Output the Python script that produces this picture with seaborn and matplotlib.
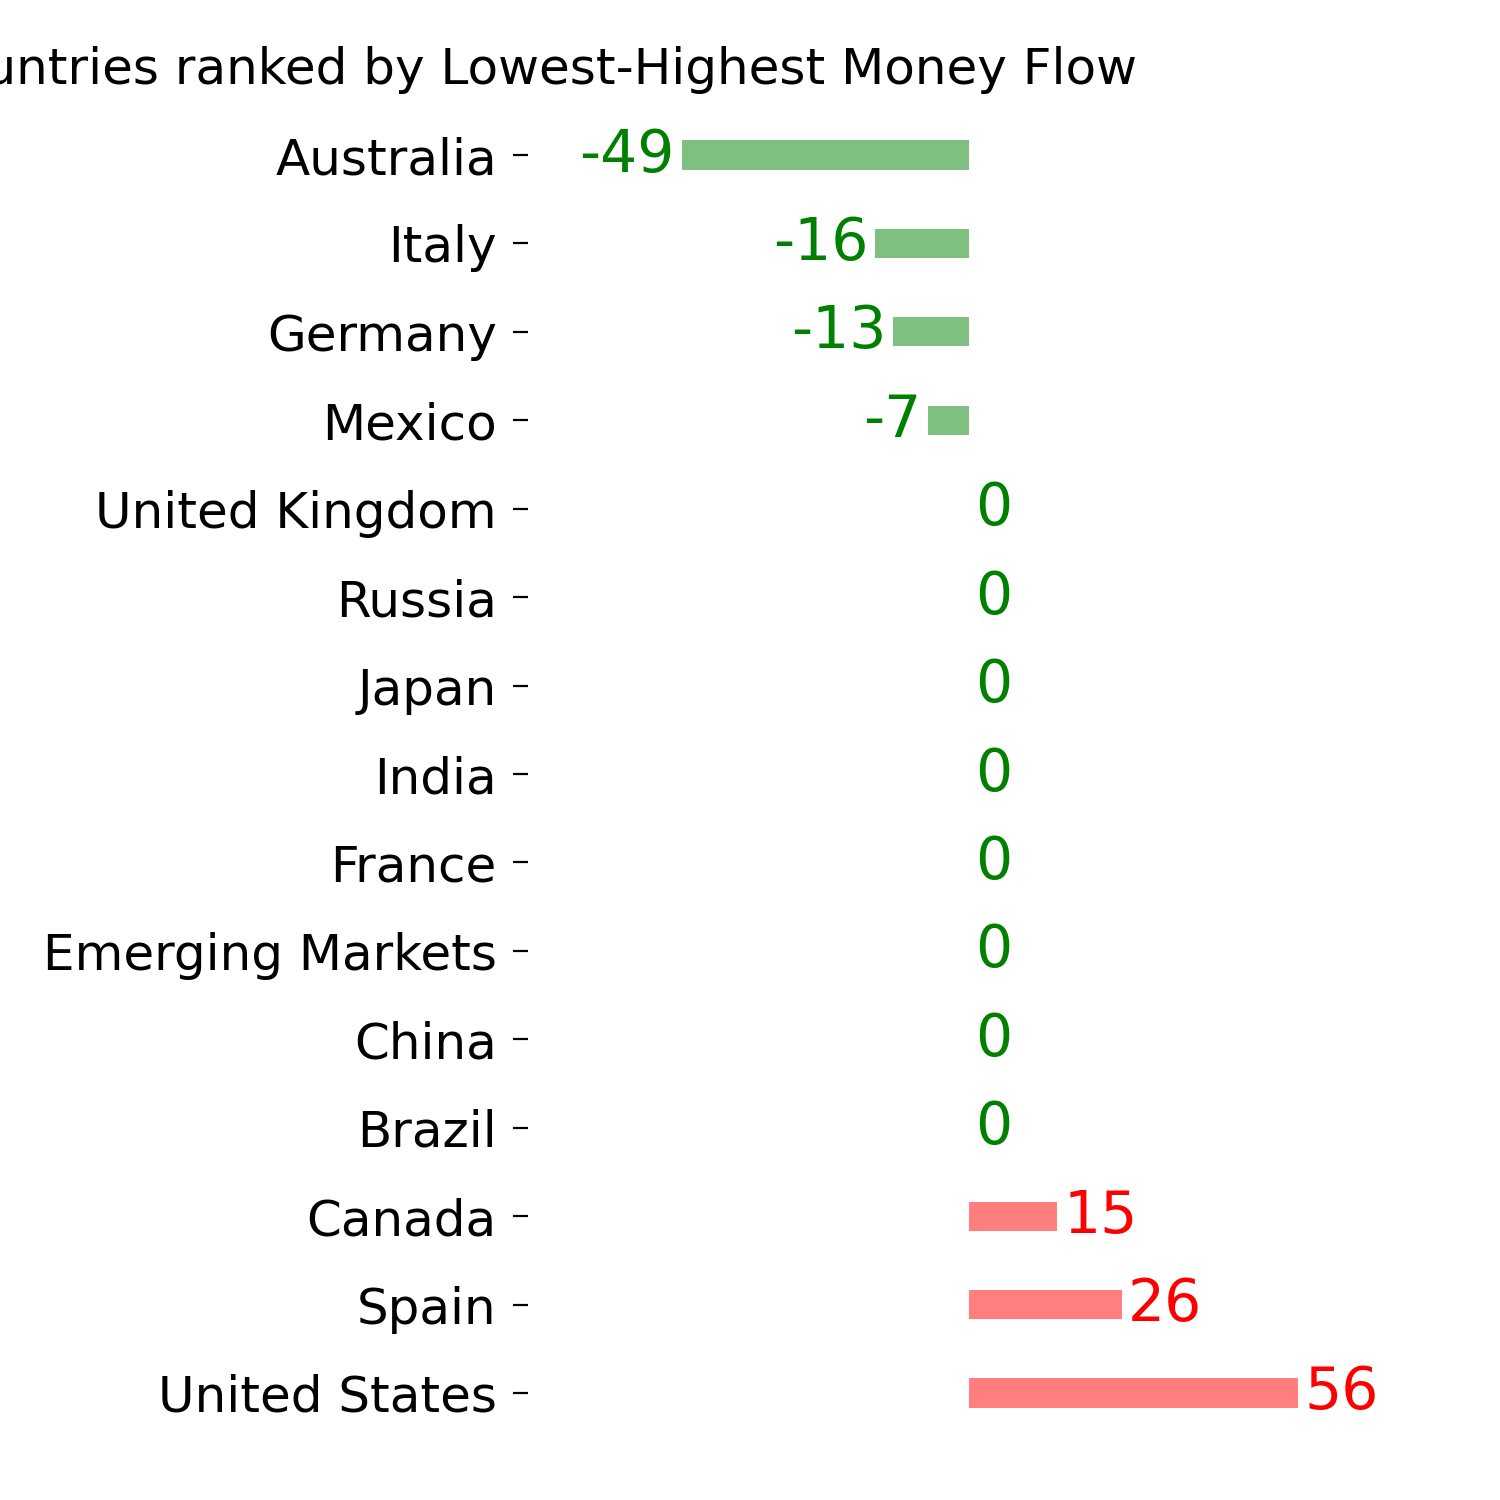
import matplotlib
matplotlib.use("Agg")
import matplotlib.pyplot as plt
import seaborn as sns
import pandas as pd

countries = ["Australia", "Italy", "Germany", "Mexico", "United Kingdom", "Russia",
             "Japan", "India", "France", "Emerging Markets", "China", "Brazil",
             "Canada", "Spain", "United States"]
values = [-49, -16, -13, -7, 0, 0, 0, 0, 0, 0, 0, 0, 15, 26, 56]
title = "Countries ranked by Lowest-Highest Money Flow"

sns.set_theme(style="white")
plt.rcParams['font.family'] = ['DejaVu Sans']

df = pd.DataFrame({"country": countries, "value": values})
palette = {c: ("red" if v > 0 else "green") for c, v in zip(countries, values)}

fig = plt.figure(figsize=(15, 15), dpi=100)
W = H = 1500.0
ax_left, ax_right = 528, 1400
ax_top, ax_bot = 110.8, 1437.2
ax = fig.add_axes([ax_left / W, 1 - ax_bot / H, (ax_right - ax_left) / W, (ax_bot - ax_top) / H])

sns.barplot(data=df, x="value", y="country", hue="country", palette=palette,
            legend=False, orient="h", width=0.33, saturation=1, alpha=0.5,
            linewidth=0, ax=ax)

ax.set_xlim(-75.2, 73.4)
ax.set_ylim(len(countries) - 0.5, -0.5)

for i, v in enumerate(values):
    col = "red" if v > 0 else "green"
    if v < 0:
        ax.annotate(str(v), xy=(v, i), xytext=(-5, 0), textcoords="offset points",
                    ha="right", va="center", color=col, fontsize=42)
    else:
        ax.annotate(str(v), xy=(v, i), xytext=(4.5, 0), textcoords="offset points",
                    ha="left", va="center", color=col, fontsize=42)

for s in ax.spines.values():
    s.set_visible(False)
ax.set_xticks([])
ax.set_xlabel("")
ax.set_ylabel("")
ax.tick_params(axis="y", left=True, length=11, width=1.6, pad=11.5, labelsize=36,
               color="black", labelcolor="black")

fig.text(1137 / W, 1 - 84 / H, title, ha="right", va="baseline", fontsize=36, color="black")

fig.savefig("out.png", dpi=100)
